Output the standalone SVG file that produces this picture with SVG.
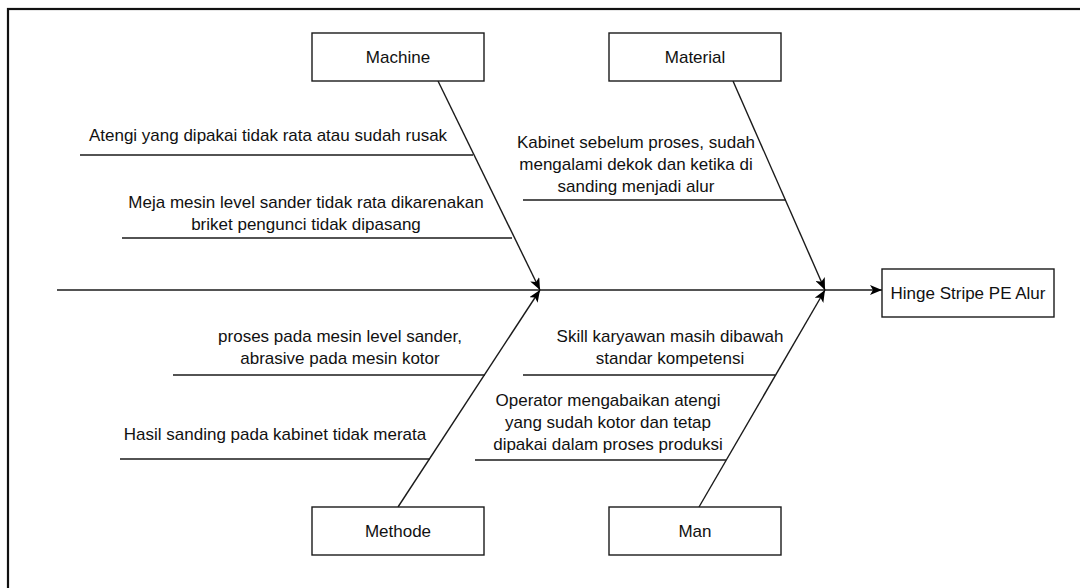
<svg xmlns="http://www.w3.org/2000/svg" width="1080" height="588" viewBox="0 0 1080 588">
  <style>
    .box { fill: #ffffff; stroke: #1a1a1a; stroke-width: 1.4; }
    .bone { stroke: #1a1a1a; stroke-width: 1.4; fill: none; }
    .sub { stroke: #1a1a1a; stroke-width: 1.4; fill: none; }
    text { font-family: "Liberation Sans", Arial, Helvetica, sans-serif; font-size: 17px; fill: #111111; text-anchor: middle; }
  </style>
  <defs>
    <marker id="arr" viewBox="0 0 12 10" refX="12" refY="5" markerWidth="12" markerHeight="10" markerUnits="userSpaceOnUse" orient="auto">
      <path d="M0,0 L12,5 L0,10 L3,5 z" fill="#000000"/>
    </marker>
  </defs>
  <rect x="0" y="0" width="1080" height="588" fill="#ffffff"/>
  <rect x="8" y="9" width="1100" height="600" fill="none" stroke="#111111" stroke-width="2.2"/>

  <g id="connectors">
    <line class="bone" x1="57" y1="290" x2="882" y2="290" marker-end="url(#arr)"/>
    <line class="bone" x1="438" y1="81" x2="540" y2="290" marker-end="url(#arr)"/>
    <line class="bone" x1="733" y1="81" x2="825" y2="290" marker-end="url(#arr)"/>
    <line class="bone" x1="398" y1="507" x2="540" y2="290" marker-end="url(#arr)"/>
    <line class="bone" x1="699" y1="507" x2="825" y2="290" marker-end="url(#arr)"/>
    <line class="sub" x1="80" y1="155" x2="473" y2="155"/>
    <line class="sub" x1="122" y1="238" x2="512" y2="238"/>
    <line class="sub" x1="523" y1="200" x2="786" y2="200"/>
    <line class="sub" x1="173" y1="375" x2="485" y2="375"/>
    <line class="sub" x1="120" y1="459" x2="430" y2="459"/>
    <line class="sub" x1="523" y1="375" x2="775" y2="375"/>
    <line class="sub" x1="475" y1="460" x2="726" y2="460"/>
  </g>

  <g id="machine">
    <rect class="box" x="312" y="33" width="172" height="48"/>
    <text x="398" y="63">Machine</text>
  </g>
  <g id="material">
    <rect class="box" x="609" y="33" width="172" height="48"/>
    <text x="695" y="63">Material</text>
  </g>
  <g id="methode">
    <rect class="box" x="312" y="507" width="172" height="48"/>
    <text x="398" y="537">Methode</text>
  </g>
  <g id="man">
    <rect class="box" x="609" y="507" width="172" height="48"/>
    <text x="695" y="537">Man</text>
  </g>
  <g id="effect">
    <rect class="box" x="882" y="269" width="172" height="48"/>
    <text x="968" y="299">Hinge Stripe PE Alur</text>
  </g>

  <g id="cause-machine-1">
    <text x="268" y="141">Atengi yang dipakai tidak rata atau sudah rusak</text>
  </g>
  <g id="cause-machine-2">
    <text x="306" y="208">Meja mesin level sander tidak rata dikarenakan</text>
    <text x="306" y="230">briket pengunci tidak dipasang</text>
  </g>
  <g id="cause-material-1">
    <text x="636" y="148">Kabinet sebelum proses, sudah</text>
    <text x="636" y="170">mengalami dekok dan ketika di</text>
    <text x="636" y="192">sanding menjadi alur</text>
  </g>
  <g id="cause-methode-1">
    <text x="340" y="342">proses pada mesin level sander,</text>
    <text x="340" y="364">abrasive pada mesin kotor</text>
  </g>
  <g id="cause-methode-2">
    <text x="275" y="440">Hasil sanding pada kabinet tidak merata</text>
  </g>
  <g id="cause-man-1">
    <text x="670" y="342">Skill karyawan masih dibawah</text>
    <text x="670" y="364">standar kompetensi</text>
  </g>
  <g id="cause-man-2">
    <text x="608" y="406">Operator mengabaikan atengi</text>
    <text x="608" y="428">yang sudah kotor dan tetap</text>
    <text x="608" y="450">dipakai dalam proses produksi</text>
  </g>
</svg>
